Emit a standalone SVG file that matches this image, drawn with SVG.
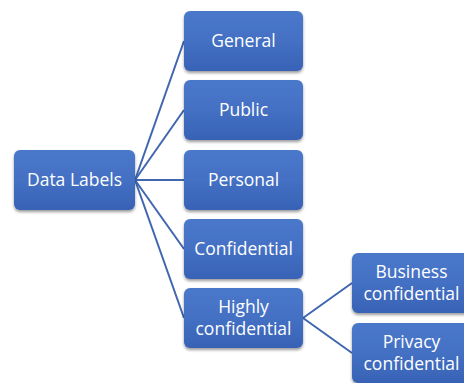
<svg xmlns="http://www.w3.org/2000/svg" width="464" height="383" viewBox="0 0 464 383">
<defs>
<linearGradient id="g" x1="0" y1="0" x2="0" y2="1">
<stop offset="0" stop-color="#4A78CB"/>
<stop offset="0.5" stop-color="#4470C4"/>
<stop offset="1" stop-color="#3762B5"/>
</linearGradient>
<filter id="sh" x="-10%" y="-10%" width="130%" height="140%">
<feGaussianBlur in="SourceAlpha" stdDeviation="1.5"/>
<feOffset dx="0" dy="2"/>
<feComponentTransfer><feFuncA type="linear" slope="0.4"/></feComponentTransfer>
<feMerge><feMergeNode/><feMergeNode in="SourceGraphic"/></feMerge>
</filter>
</defs>
<style>
.box{fill:url(#g);filter:url(#sh);}
.t{fill:#ffffff;font-family:"Open Sans","Liberation Sans",sans-serif;font-size:17.5px;text-anchor:middle;}
.c{stroke:#4066B0;stroke-width:2;fill:none;}
</style>
<rect width="464" height="383" fill="#ffffff"/>
<g id="connectors">
<line class="c" x1="135" y1="180" x2="184" y2="41"/>
<line class="c" x1="135" y1="180" x2="184" y2="110"/>
<line class="c" x1="135" y1="180" x2="184" y2="180"/>
<line class="c" x1="135" y1="180" x2="184" y2="249"/>
<line class="c" x1="135" y1="180" x2="184" y2="318"/>
<line class="c" x1="303" y1="318" x2="352" y2="283"/>
<line class="c" x1="303" y1="318" x2="352" y2="353"/>
</g>
<g id="data-labels"><rect class="box" x="14" y="150" width="121" height="60" rx="6"/><text class="t" x="74.5" y="186">Data Labels</text></g>
<g id="general"><rect class="box" x="184" y="11" width="119" height="60" rx="6"/><text class="t" x="243.5" y="47">General</text></g>
<g id="public"><rect class="box" x="184" y="80" width="119" height="60" rx="6"/><text class="t" x="243.5" y="116">Public</text></g>
<g id="personal"><rect class="box" x="184" y="150" width="119" height="60" rx="6"/><text class="t" x="243.5" y="186">Personal</text></g>
<g id="confidential"><rect class="box" x="184" y="219" width="119" height="60" rx="6"/><text class="t" x="243.5" y="255">Confidential</text></g>
<g id="highly"><rect class="box" x="184" y="288" width="119" height="60" rx="6"/><text class="t" x="243.5" y="313">Highly</text><text class="t" x="243.5" y="335">confidential</text></g>
<g id="business"><rect class="box" x="352" y="253" width="119" height="60" rx="6"/><text class="t" x="411.5" y="278">Business</text><text class="t" x="411.5" y="300">confidential</text></g>
<g id="privacy"><rect class="box" x="352" y="323" width="119" height="60" rx="6"/><text class="t" x="411.5" y="348">Privacy</text><text class="t" x="411.5" y="370">confidential</text></g>
</svg>
